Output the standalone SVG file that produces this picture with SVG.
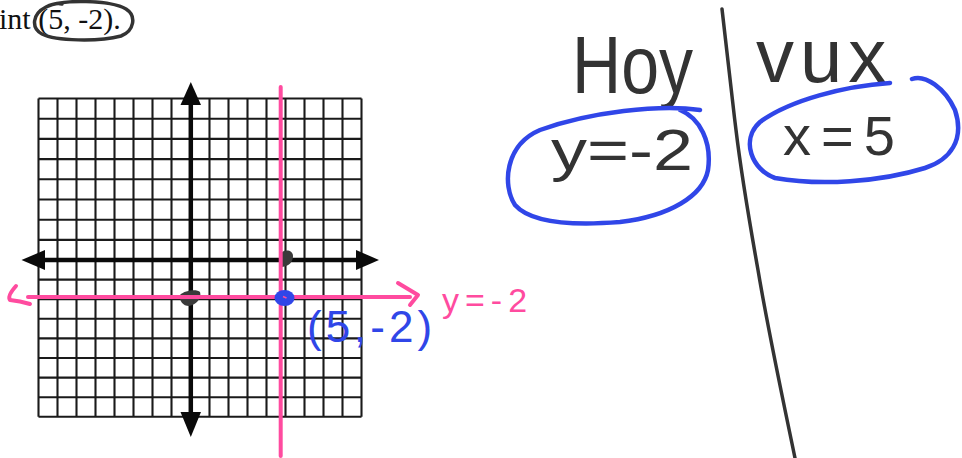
<svg xmlns="http://www.w3.org/2000/svg" width="962" height="458" viewBox="0 0 962 458">
<defs>
<style>
.grid line{stroke:#1a1a1a;stroke-width:2.1}
.axis{stroke:#0a0a0a;stroke-width:4.5;fill:none}
.ah{fill:#0a0a0a}
.pink{stroke:#ff4b9f;stroke-width:4;fill:none;stroke-linecap:round;stroke-linejoin:round}
.blue{stroke:#3046e8;stroke-width:4.5;fill:none;stroke-linecap:round;stroke-linejoin:round}
.ink{stroke:#333;stroke-width:3.5;fill:none;stroke-linecap:round;stroke-linejoin:round}
.hw{font-family:"Liberation Sans",Arial,sans-serif;fill:#333}
.hb{font-family:"Liberation Sans",Arial,sans-serif;fill:#3046e8}
.hp{font-family:"Liberation Sans",Arial,sans-serif;fill:#ff4b9f}
</style>
</defs>
<rect width="962" height="458" fill="#fff"/>

<g id="header">
<text x="-1" y="29" font-family="'Liberation Serif','Times New Roman',serif" font-size="30" fill="#111">int (5, -2).</text>
<path class="ink" d="M46,7 C62,-1 110,0 126,9 C137,16 134,31 121,36 C98,42 56,41 42,34 C31,28 32,14 46,7 C52,4 58,3 62,4"/>
</g>

<g id="grid" class="grid">
<line x1="38.5" y1="98.5" x2="361.5" y2="98.5"/>
<line x1="38.5" y1="118.7" x2="361.5" y2="118.7"/>
<line x1="38.5" y1="138.9" x2="361.5" y2="138.9"/>
<line x1="38.5" y1="159.1" x2="361.5" y2="159.1"/>
<line x1="38.5" y1="179.3" x2="361.5" y2="179.3"/>
<line x1="38.5" y1="199.5" x2="361.5" y2="199.5"/>
<line x1="38.5" y1="219.7" x2="361.5" y2="219.7"/>
<line x1="38.5" y1="239.9" x2="361.5" y2="239.9"/>
<line x1="38.5" y1="279.6" x2="361.5" y2="279.6"/>
<line x1="38.5" y1="299.2" x2="361.5" y2="299.2"/>
<line x1="38.5" y1="318.8" x2="361.5" y2="318.8"/>
<line x1="38.5" y1="338.4" x2="361.5" y2="338.4"/>
<line x1="38.5" y1="358" x2="361.5" y2="358"/>
<line x1="38.5" y1="377.6" x2="361.5" y2="377.6"/>
<line x1="38.5" y1="397.2" x2="361.5" y2="397.2"/>
<line x1="38.5" y1="416.8" x2="361.5" y2="416.8"/>
<line x1="38.5" y1="98.5" x2="38.5" y2="416.8"/>
<line x1="57.5" y1="98.5" x2="57.5" y2="416.8"/>
<line x1="76.5" y1="98.5" x2="76.5" y2="416.8"/>
<line x1="95.5" y1="98.5" x2="95.5" y2="416.8"/>
<line x1="114.5" y1="98.5" x2="114.5" y2="416.8"/>
<line x1="133.5" y1="98.5" x2="133.5" y2="416.8"/>
<line x1="152.5" y1="98.5" x2="152.5" y2="416.8"/>
<line x1="171.5" y1="98.5" x2="171.5" y2="416.8"/>
<line x1="209.5" y1="98.5" x2="209.5" y2="416.8"/>
<line x1="228.5" y1="98.5" x2="228.5" y2="416.8"/>
<line x1="247.5" y1="98.5" x2="247.5" y2="416.8"/>
<line x1="266.5" y1="98.5" x2="266.5" y2="416.8"/>
<line x1="285.5" y1="98.5" x2="285.5" y2="416.8"/>
<line x1="304.5" y1="98.5" x2="304.5" y2="416.8"/>
<line x1="323.5" y1="98.5" x2="323.5" y2="416.8"/>
<line x1="342.5" y1="98.5" x2="342.5" y2="416.8"/>
<line x1="361.5" y1="98.5" x2="361.5" y2="416.8"/>
</g>

<g id="axes">
<line class="axis" x1="190.8" y1="100" x2="190.8" y2="415"/>
<line class="axis" x1="42" y1="260" x2="358" y2="260"/>
<polygon class="ah" points="190.8,82 180.5,105 201,105"/>
<polygon class="ah" points="190.8,437 180.5,412 201,412"/>
<polygon class="ah" points="21.5,260 45,250 45,270"/>
<polygon class="ah" points="379,260 356,250 356,270"/>
</g>

<g id="marks">
<path fill="#3a3a3a" d="M180,295 C185,290 197,289 200,292 C202,298 196,305 189,306 C183,306 179,301 180,295 Z"/>
<path fill="#3a3a3a" d="M282,252 C287,249 293,251 293,256 C293,262 289,266 282,267 Z"/>
</g>

<g id="lines">
<line class="pink" x1="280.7" y1="87" x2="280.7" y2="456"/>
<line class="pink" x1="28" y1="297" x2="410" y2="297"/>
<path class="pink" d="M398,283 L418,295 L410,305"/>
<path class="pink" d="M16,286 Q7,296 10,300 Q20,301 30,304"/>
</g>

<g id="point">
<ellipse cx="284.5" cy="298" rx="10" ry="8" fill="#3046e8"/>
<path d="M283,296.5 L286.5,298" stroke="#ff4b9f" stroke-width="1.5"/>
<text class="hb" x="307" y="342" font-size="44" letter-spacing="4">(5,-2)</text>
</g>

<text class="hp" x="442" y="312" font-size="34" letter-spacing="6">y=-2</text>

<g id="divider">
<path class="ink" d="M722,9 C727,50 731,90 736,130 C742,180 750,225 758,270 C768,330 783,400 795,458" stroke-width="3.5"/>
</g>

<g id="hoy">
<text class="hw" x="572" y="93" font-size="82" textLength="121" lengthAdjust="spacingAndGlyphs">Hoy</text>
<path class="blue" d="M700,110 C660,104 590,112 540,130 C505,145 502,185 515,205 C530,222 570,226 620,222 C670,216 703,196 708,170 C712,142 700,118 680,110"/>
<text class="hw" x="551" y="170" font-size="58" textLength="142" lengthAdjust="spacingAndGlyphs">y=-2</text>
</g>

<g id="vux">
<text class="hw" x="756" y="82" font-size="76" letter-spacing="6">vux</text>
<path class="blue" d="M890,83 C845,86 790,100 760,122 C740,140 752,170 775,178 C820,186 880,182 925,168 C950,160 965,140 955,110 C945,88 925,74 912,79"/>
<text class="hw" x="783" y="155" font-size="56" letter-spacing="10">x=5</text>
</g>
</svg>
